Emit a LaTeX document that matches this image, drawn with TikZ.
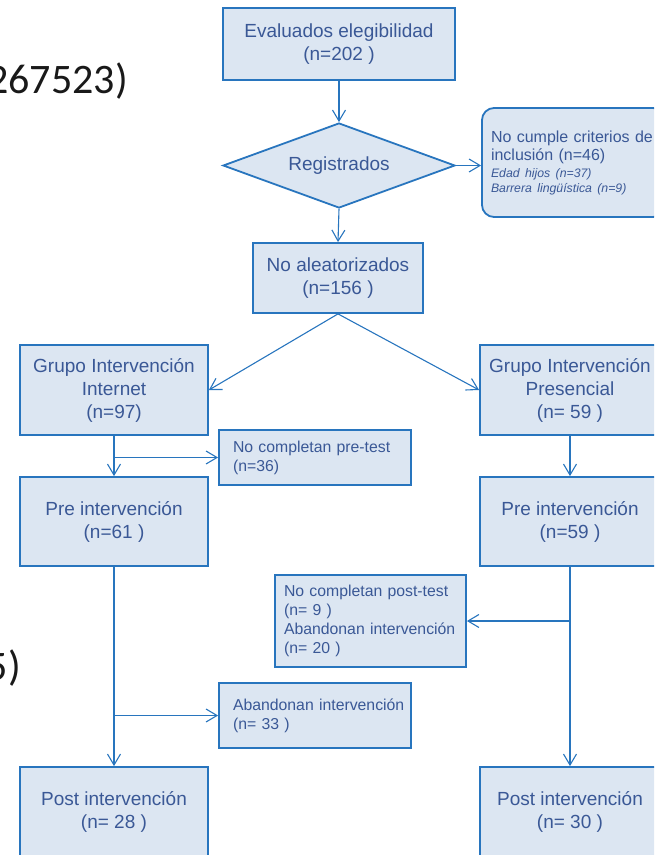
\documentclass[tikz,border=0pt]{standalone}
\usepackage{fontspec}
\setmainfont{Liberation Sans}
\newfontfamily\slidefont{Carlito}
\usetikzlibrary{shapes.geometric,arrows.meta}
\definecolor{boxfill}{RGB}{220,230,242}
\definecolor{boxline}{RGB}{40,117,190}
\definecolor{boxtext}{RGB}{58,88,150}

\tikzset{
  box/.style={rectangle, fill=boxfill, draw=boxline, line width=1.8pt, text=boxtext,
    align=center, inner sep=0pt, font=\fontsize{19}{23}\selectfont},
  note/.style={rectangle, fill=boxfill, draw=boxline, line width=1.8pt, text=boxtext,
    align=left, inner ysep=0pt, font=\fontsize{15.8}{19}\selectfont},
  flow/.style={draw=boxline, line width=1.1pt, -{Straight Barb[length=11pt,width=13pt,line width=1.1pt]}},
  slide/.style={anchor=base east, inner sep=0pt, text=black!90, font=\slidefont\fontsize{42}{42}\selectfont},
}

\begin{document}
\begin{tikzpicture}[x=1pt,y=-1pt]
\useasboundingbox (0,0) rectangle (654,855);
\clip (0,0) rectangle (654,855);

\node[slide] (Ref1) at (128,93) {267523)};
\node[slide] (Ref2) at (21,680) {5)};

\node[box, minimum width=232, minimum height=72] (Eval) at (339,44) {Evaluados elegibilidad\\(n=202 )};
\node[box, diamond, aspect=2.7, minimum width=232, minimum height=85] (Reg) at (339,165.5) {Registrados};
\node[note, rounded corners=12pt, minimum height=109, text width=165, inner xsep=9pt, font=\fontsize{16}{18}\selectfont] (NoCumple) at (573.5,162.5)
  {No cumple criterios de\\inclusión (n=46)\par\vspace{2pt}
   {\itshape\fontsize{12.3}{15}\selectfont Edad hijos (n=37)\\Barrera lingüística (n=9)\par}};
\node[box, minimum width=170, minimum height=70] (NoAlea) at (338,278) {No aleatorizados\\(n=156 )};

\node[box, minimum width=188, minimum height=90] (Internet) at (114,390) {Grupo Intervención\\Internet\\(n=97)};
\node[box, minimum width=180, minimum height=90] (Presencial) at (570,390) {Grupo Intervención\\Presencial\\(n= 59 )};

\node[note, minimum height=55, text width=164, inner xsep=14pt] (PreTest) at (315,457.5) {No completan pre-test\\(n=36)};
\node[box, minimum width=188, minimum height=89] (PreL) at (114,521.5) {Pre intervención\\(n=61 )};
\node[box, minimum width=180, minimum height=89] (PreR) at (570,521.5) {Pre intervención\\(n=59 )};

\node[note, minimum height=92, text width=173, inner xsep=9pt] (PostTest) at (370.5,621)
  {No completan post-test\\(n= 9 )\\\mbox{Abandonan intervención}\\(n= 20 )};
\node[note, minimum height=65, text width=164, inner xsep=14pt] (Aband) at (315,715.5) {\mbox{Abandonan intervención}\\(n= 33 )};

\node[box, minimum width=188, minimum height=90] (PostL) at (114,812) {Post intervención\\(n= 28 )};
\node[box, minimum width=180, minimum height=90] (PostR) at (570,812) {Post intervención\\(n= 30 )};

\coordinate (PreTestIn) at (Internet.south |- PreTest.west);
\coordinate (AbandIn) at (PreL.south |- Aband.west);
\coordinate (PostTestIn) at (PreR.south |- PostTest.east);

\draw[flow] (Eval.south) -- (Reg.north);
\draw[flow] (Reg.east) -- (Reg.east -| NoCumple.west);
\draw[flow] (Reg.south) -- (NoAlea.north);
\draw[flow] (NoAlea.south) -- (Internet.east);
\draw[flow] (NoAlea.south) -- (Presencial.west);
\draw[flow] (Internet.south) -- (PreL.north);
\draw[flow] (PreTestIn) -- (PreTest.west);
\draw[flow] (Presencial.south) -- (PreR.north);
\draw[flow] (PreL.south) -- (PostL.north);
\draw[flow] (AbandIn) -- (Aband.west);
\draw[flow] (PreR.south) -- (PostR.north);
\draw[flow] (PostTestIn) -- (PostTest.east);
\end{tikzpicture}
\end{document}
